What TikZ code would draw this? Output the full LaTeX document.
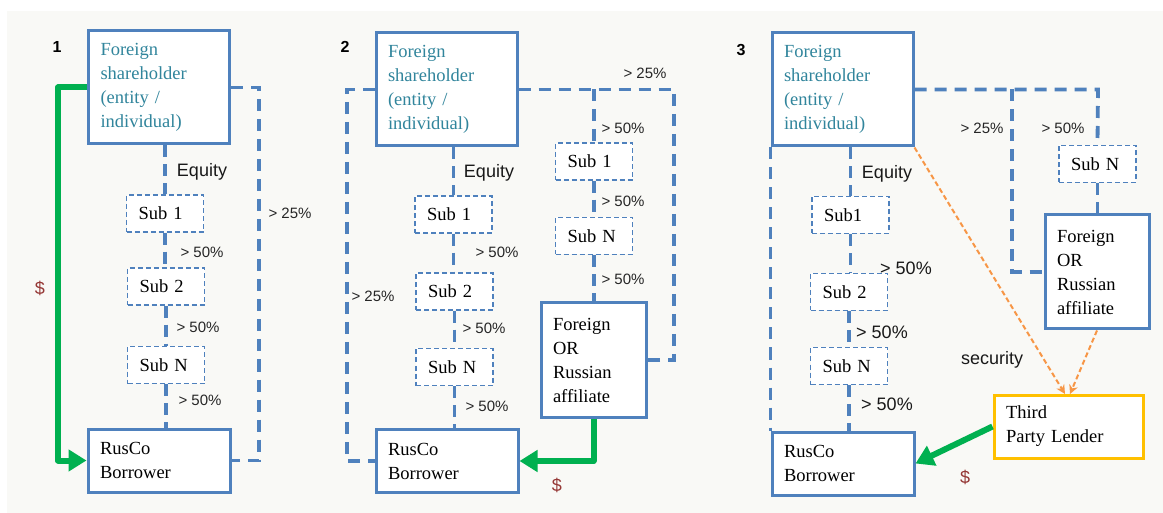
\documentclass[tikz,border=0pt]{standalone}
\usepackage{fontspec}
\setmainfont{Liberation Serif}
\setsansfont{Liberation Sans}
\usetikzlibrary{arrows.meta}
\definecolor{bxblue}{HTML}{4F81BD}
\definecolor{tealtxt}{HTML}{31859C}
\definecolor{moneygreen}{HTML}{00B050}
\definecolor{secorange}{HTML}{F79646}
\definecolor{gold}{HTML}{FFC000}
\definecolor{dollarred}{HTML}{953735}
\definecolor{panelbg}{HTML}{F9F9F6}
\begin{document}
\begin{tikzpicture}[x=1pt,y=1pt,
  box/.style={draw=bxblue, line width=3pt, fill=white, inner xsep=12pt, inner ysep=0pt,
    align=left, font=\fontsize{18.5}{24}\selectfont},
  fsbox/.style={box, text=tealtxt, text width=117pt, minimum height=113pt},
  rcbox/.style={box, text width=118pt, minimum height=63pt},
  affbox/.style={box, text width=81pt, minimum height=114pt},
  subbox/.style={draw=bxblue, line width=1.5pt, dash pattern=on 5pt off 3pt, fill=white,
    inner xsep=12pt, inner ysep=0pt, align=left, text width=53pt, minimum height=37pt,
    font=\fontsize{18.5}{22}\selectfont},
  loopline/.style={draw=bxblue, line width=3.8pt, dash pattern=on 12pt off 8pt},
  eqline/.style={draw=bxblue, line width=3.8pt, dash pattern=on 12pt off 7pt},
  pct/.style={font=\sffamily\fontsize{15}{18}\selectfont, text=black!85},
  bigpct/.style={font=\sffamily\fontsize{18}{21}\selectfont, text=black!90},
  num/.style={font=\sffamily\bfseries\fontsize{16}{19}\selectfont},
  dollar/.style={font=\sffamily\fontsize{18}{21}\selectfont, text=dollarred},
  money/.style={draw=moneygreen, line width=6pt, line join=round,
    -{Triangle[length=18pt,width=21pt]}},
  secline/.style={draw=secorange, line width=2pt, dash pattern=on 5pt off 3pt,
    -{Stealth[length=9pt,width=9pt]}}
]
\useasboundingbox (0,0) rectangle (1163,-513);
\fill[white] (0,0) rectangle (1163,-513);
\fill[panelbg] (7,-11) rectangle (1163,-513);

% ---------------- Panel 1 ----------------
\node[num] (n1) at (57,-47) {1};
\node[fsbox] (fs1) at (159,-87.5) {Foreign\\shareholder\\(entity /\\individual)};
\node[rcbox] (rc1) at (159,-460.5) {RusCo\\Borrower};
\node[subbox] (s11) at (165,-213.5) {Sub 1};
\node[subbox] (s12) at (166,-286.5) {Sub 2};
\node[subbox] (s1n) at (166,-365) {Sub N};
\draw[eqline] (s11.north |- fs1.south) -- (s11.north);
\draw[eqline] (s11.south) -- (s11.south |- s12.north);
\draw[eqline] (s12.south) -- (s12.south |- s1n.north);
\draw[eqline] (s1n.south) -- (s1n.south |- rc1.north);
\node[bigpct] (eq1) at (202,-172) {Equity};
\node[pct] (p11) at (202,-252) {> 50\%};
\node[pct] (p12) at (198,-327) {> 50\%};
\node[pct] (p13) at (200,-400) {> 50\%};
\coordinate (l1a) at (259,-87.5);
\draw[loopline] (fs1.east) -- (l1a) |- (rc1.east);
\node[pct] (q1) at (290,-213) {> 25\%};
\coordinate (g1) at (58,-87.5);
\draw[money] (fs1.west) -- (g1) |- (rc1.west);
\node[dollar] (d1) at (40,-288) {\$};

% ---------------- Panel 2 ----------------
\node[num] (n2) at (345,-47) {2};
\node[fsbox] (fs2) at (446.5,-89.5) {Foreign\\shareholder\\(entity /\\individual)};
\node[rcbox] (rc2) at (447,-461) {RusCo\\Borrower};
\node[subbox] (s21) at (453.5,-214.5) {Sub 1};
\node[subbox] (s22) at (454.5,-291.5) {Sub 2};
\node[subbox] (s2n) at (454.5,-367) {Sub N};
\node[subbox] (r21) at (594,-161.5) {Sub 1};
\node[subbox] (r2n) at (594,-236) {Sub N};
\node[affbox] (aff2) at (593.5,-360) {Foreign\\OR\\Russian\\affiliate};
\draw[eqline] (s21.north |- fs2.south) -- (s21.north);
\draw[eqline] (s21.south) -- (s21.south |- s22.north);
\draw[eqline] (s22.south) -- (s22.south |- s2n.north);
\draw[eqline] (s2n.south) -- (s2n.south |- rc2.north);
\node[bigpct] (eq2) at (489,-173) {Equity};
\node[pct] (p21) at (497,-252) {> 50\%};
\node[pct] (p22) at (484,-328) {> 50\%};
\node[pct] (p23) at (487,-406) {> 50\%};
\coordinate (l2a) at (674,-89.5);
\coordinate (l2b) at (594,-89.5);
\coordinate (l2c) at (347,-89.5);
\draw[loopline] (fs2.east) -- (l2a) |- (aff2.east);
\draw[loopline] (l2b) -- (r21.north);
\draw[loopline] (fs2.west) -- (l2c) |- (rc2.west);
\draw[eqline] (r21.south) -- (r2n.north);
\draw[eqline] (r2n.south) -- (r2n.south |- aff2.north);
\node[pct] (q21) at (645,-73) {> 25\%};
\node[pct] (q22) at (373,-296) {> 25\%};
\node[pct] (p24) at (623,-128) {> 50\%};
\node[pct] (p25) at (623,-201) {> 50\%};
\node[pct] (p26) at (623,-279) {> 50\%};
\draw[money] (aff2.south) |- (rc2.east);
\node[dollar] (d2) at (557,-485) {\$};

% ---------------- Panel 3 ----------------
\node[num] (n3) at (741,-50) {3};
\node[fsbox] (fs3) at (842.5,-89.5) {Foreign\\shareholder\\(entity /\\individual)};
\node[rcbox] (rc3) at (843,-463.5) {RusCo\\Borrower};
\node[subbox] (s31) at (850.5,-215) {Sub1};
\node[subbox] (s32) at (849,-292) {Sub 2};
\node[subbox] (s3n) at (849,-366) {Sub N};
\node[subbox] (r3n) at (1097.5,-164) {Sub N};
\node[affbox, text width=80pt] (aff3) at (1097,-272) {Foreign\\OR\\Russian\\affiliate};
\node[box, draw=gold, text width=125pt, minimum height=63pt] (tpl) at (1068.5,-426.5) {Third\\Party Lender};
\draw[eqline] (s31.north |- fs3.south) -- (s31.north);
\draw[eqline] (s31.south) -- (s31.south |- s32.north);
\draw[eqline] (s32.south) -- (s32.south |- s3n.north);
\draw[eqline] (s3n.south) -- (s3n.south |- rc3.north);
\draw[loopline] (fs3.south west) -- (rc3.north west);
\node[bigpct] (eq3) at (887,-174) {Equity};
\node[bigpct] (p31) at (906,-268) {> 50\%};
\node[bigpct] (p32) at (882,-332) {> 50\%};
\node[bigpct] (p33) at (887,-404) {> 50\%};
\coordinate (l3a) at (1098,-89.5);
\coordinate (l3b) at (1012,-89.5);
\draw[loopline] (fs3.east) -- (l3a) -- (r3n.north);
\draw[loopline] (l3b) |- (aff3.west);
\draw[eqline] (r3n.south) -- (r3n.south |- aff3.north);
\node[pct] (q31) at (982,-128) {> 25\%};
\node[pct] (p34) at (1063,-128) {> 50\%};
\coordinate (ta) at (1065,-394);
\coordinate (tb) at (1070,-394);
\draw[secline] (fs3.south east) -- (ta);
\draw[secline] (aff3.south) -- (tb);
\node[bigpct] (sec) at (992,-360) {security};
\draw[money] (tpl.west) -- (rc3.east);
\node[dollar] (d3) at (965,-477) {\$};
\end{tikzpicture}
\end{document}
